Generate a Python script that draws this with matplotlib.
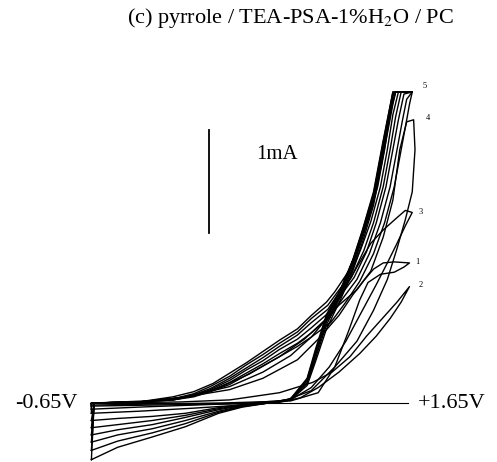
import matplotlib.pyplot as plt

plt.rcParams['font.family'] = ['Liberation Serif', 'DejaVu Serif']
plt.rcParams['mathtext.fontset'] = 'stix'

# potential window (V) and current scale bar (mA)
v_low, v_high = -0.65, 1.65
scale_bar_mA = 1.0

# early cycles: forward (anodic) and reverse sweeps
c1_fwd_v = [-0.64, -0.20, 0.30, 0.80, 1.00, 1.12, 1.22, 1.30, 1.36, 1.45, 1.55, 1.62, 1.66]
c1_fwd_i = [-0.02, -0.01, 0.00, 0.02, 0.10, 0.35, 0.70, 1.00, 1.17, 1.25, 1.27, 1.32, 1.36]
c1_rev_v = [1.66, 1.55, 1.47, 1.40, 1.33, 1.25, 1.15, 1.00, 0.85, 0.60, 0.36, 0.00, -0.30, -0.64]
c1_rev_i = [1.36, 1.37, 1.36, 1.30, 1.19, 1.05, 0.85, 0.62, 0.42, 0.24, 0.13, 0.05, 0.01, 0.00]

c2_fwd_v = [-0.64, -0.20, 0.30, 0.70, 0.87, 1.00, 1.15, 1.30, 1.42, 1.52, 1.60, 1.66]
c2_fwd_i = [-0.03, -0.02, -0.01, 0.00, 0.05, 0.15, 0.30, 0.48, 0.65, 0.82, 0.98, 1.13]
c2_rev_v = [1.66, 1.57, 1.45, 1.35, 1.23, 1.10, 0.96, 0.72, 0.36, 0.00, -0.64]
c2_rev_i = [1.13, 0.98, 0.80, 0.65, 0.45, 0.30, 0.20, 0.10, 0.03, 0.01, 0.00]

c3_fwd_v = [-0.64, -0.30, 0.10, 0.50, 0.80, 0.95, 1.08, 1.20, 1.32, 1.42, 1.50, 1.57, 1.63, 1.68]
c3_fwd_i = [-0.06, -0.04, -0.02, 0.00, 0.03, 0.15, 0.35, 0.60, 0.90, 1.15, 1.36, 1.55, 1.72, 1.85]
c3_rev_v = [1.68, 1.63, 1.57, 1.47, 1.38, 1.28, 1.18, 1.08, 0.95, 0.80, 0.60, 0.36, 0.05, -0.30, -0.64]
c3_rev_i = [1.85, 1.87, 1.80, 1.68, 1.55, 1.32, 1.08, 0.85, 0.64, 0.46, 0.30, 0.16, 0.06, 0.01, 0.00]

c4_fwd_v = [-0.64, -0.30, 0.10, 0.45, 0.75, 0.95, 1.12, 1.28, 1.40, 1.50, 1.57, 1.63, 1.68, 1.70, 1.69]
c4_fwd_i = [-0.10, -0.08, -0.05, -0.02, 0.02, 0.12, 0.35, 0.60, 0.90, 1.20, 1.50, 1.78, 2.05, 2.46, 2.75]
c4_rev_v = [1.69, 1.64, 1.59, 1.54, 1.47, 1.38, 1.28, 1.15, 1.06, 0.90, 0.72, 0.50, 0.25, 0.00, -0.30, -0.64]
c4_rev_i = [2.75, 2.73, 2.46, 1.97, 1.61, 1.28, 1.10, 0.95, 0.82, 0.62, 0.45, 0.28, 0.13, 0.05, 0.01, 0.00]

# later cycles: current off-scale (clipped at ~3 mA) at the anodic end
late_fwd_v = [-0.64, -0.45, -0.20, 0.04, 0.28, 0.45, 0.64, 0.80, 0.92, 0.98, 1.06,
              1.16, 1.25, 1.32, 1.40, 1.47, 1.54, 1.56, 1.68]
c5_fwd_i = [-0.17, -0.15, -0.13, -0.10, -0.045, -0.015, 0.00, 0.03, 0.17, 0.40, 0.72,
            1.00, 1.28, 1.56, 1.92, 2.40, 2.90, 3.02, 3.02]
c6_fwd_i = [-0.24, -0.21, -0.17, -0.12, -0.055, -0.02, 0.00, 0.03, 0.19, 0.43, 0.76,
            1.03, 1.31, 1.60, 1.95, 2.43, 2.94, 3.02, 3.02]
c7_fwd_i = [-0.31, -0.26, -0.21, -0.14, -0.065, -0.025, 0.00, 0.035, 0.20, 0.46, 0.79,
            1.05, 1.34, 1.63, 1.99, 2.47, 2.98, 3.02, 3.02]
c8_fwd_i = [-0.38, -0.31, -0.25, -0.17, -0.08, -0.03, 0.00, 0.035, 0.22, 0.48, 0.82,
            1.07, 1.36, 1.65, 2.01, 2.50, 3.00, 3.02, 3.02]
c9_fwd_i = [-0.46, -0.37, -0.29, -0.20, -0.09, -0.035, 0.00, 0.04, 0.23, 0.50, 0.84,
            1.09, 1.38, 1.67, 2.03, 2.53, 3.02, 3.02, 3.02]
c10_fwd_i = [-0.55, -0.43, -0.33, -0.23, -0.10, -0.04, 0.00, 0.04, 0.24, 0.52, 0.86,
             1.10, 1.39, 1.68, 2.05, 2.55, 3.02, 3.02, 3.02]

c5_rev_v = [1.68, 1.66, 1.64, 1.60, 1.55, 1.48, 1.40, 1.30, 1.20, 1.09, 0.95, 0.85, 0.72,
            0.60, 0.48, 0.36, 0.22, 0.10, -0.05, -0.30, -0.62]
c5_rev_i = [3.02, 2.90, 2.75, 2.46, 2.10, 1.75, 1.45, 1.18, 0.98, 0.78, 0.64, 0.55, 0.45,
            0.36, 0.27, 0.18, 0.11, 0.06, 0.03, 0.01, 0.00]
c6_rev_v = [1.68, 1.64, 1.61, 1.57, 1.52, 1.45, 1.37, 1.28, 1.18, 1.08, 0.95, 0.85, 0.72,
            0.60, 0.48, 0.36, 0.22, 0.10, -0.05, -0.30, -0.62]
c6_rev_i = [3.02, 2.95, 2.75, 2.46, 2.10, 1.75, 1.45, 1.20, 1.02, 0.83, 0.68, 0.58, 0.48,
            0.38, 0.29, 0.20, 0.12, 0.07, 0.03, 0.01, 0.00]
c7_rev_v = [1.68, 1.62, 1.58, 1.54, 1.49, 1.42, 1.35, 1.26, 1.16, 1.07, 0.95, 0.85, 0.72,
            0.60, 0.48, 0.36, 0.22, 0.10, -0.05, -0.30, -0.62]
c7_rev_i = [3.02, 3.00, 2.75, 2.46, 2.10, 1.75, 1.47, 1.22, 1.04, 0.87, 0.73, 0.62, 0.52,
            0.41, 0.32, 0.22, 0.13, 0.07, 0.03, 0.01, 0.00]
c8_rev_v = [1.68, 1.60, 1.56, 1.52, 1.47, 1.40, 1.33, 1.24, 1.14, 1.07, 0.95, 0.85, 0.72,
            0.60, 0.48, 0.36, 0.22, 0.10, -0.05, -0.30, -0.62]
c8_rev_i = [3.02, 3.02, 2.78, 2.46, 2.10, 1.75, 1.48, 1.22, 1.05, 0.91, 0.78, 0.66, 0.55,
            0.44, 0.34, 0.24, 0.14, 0.08, 0.04, 0.01, 0.00]
c9_rev_v = [1.68, 1.58, 1.54, 1.50, 1.45, 1.38, 1.31, 1.23, 1.13, 1.07, 0.95, 0.85, 0.72,
            0.60, 0.48, 0.36, 0.22, 0.10, -0.05, -0.30, -0.62]
c9_rev_i = [3.02, 3.02, 2.80, 2.46, 2.10, 1.76, 1.50, 1.24, 1.06, 0.95, 0.82, 0.69, 0.58,
            0.47, 0.37, 0.26, 0.16, 0.09, 0.04, 0.01, 0.00]
c10_rev_v = [1.68, 1.56, 1.52, 1.48, 1.43, 1.36, 1.29, 1.22, 1.12, 1.06, 0.95, 0.85, 0.72,
             0.60, 0.48, 0.36, 0.24, 0.10, -0.05, -0.25, -0.62]
c10_rev_i = [3.02, 3.02, 2.82, 2.46, 2.10, 1.78, 1.52, 1.28, 1.08, 0.98, 0.85, 0.72, 0.61,
             0.50, 0.39, 0.29, 0.19, 0.11, 0.06, 0.02, 0.00]

# hand-written cycle numbers next to the loop tips
cycle_labels = ["5", "4", "3", "1", "2"]
cycle_label_v = [1.77, 1.79, 1.74, 1.72, 1.74]
cycle_label_i = [3.08, 2.77, 1.85, 1.37, 1.15]

cycles = [
    (c1_fwd_v, c1_fwd_i, c1_rev_v, c1_rev_i),
    (c2_fwd_v, c2_fwd_i, c2_rev_v, c2_rev_i),
    (c3_fwd_v, c3_fwd_i, c3_rev_v, c3_rev_i),
    (c4_fwd_v, c4_fwd_i, c4_rev_v, c4_rev_i),
    (late_fwd_v, c5_fwd_i, c5_rev_v, c5_rev_i),
    (late_fwd_v, c6_fwd_i, c6_rev_v, c6_rev_i),
    (late_fwd_v, c7_fwd_i, c7_rev_v, c7_rev_i),
    (late_fwd_v, c8_fwd_i, c8_rev_v, c8_rev_i),
    (late_fwd_v, c9_fwd_i, c9_rev_v, c9_rev_i),
    (late_fwd_v, c10_fwd_i, c10_rev_v, c10_rev_i),
]

fig = plt.figure(figsize=(4.97, 4.62), dpi=100)
ax = fig.add_axes([0, 0, 1, 1])

# zero-current line across the sweep window
ax.plot([v_low, v_high], [0, 0], color='black', lw=0.8)

for fv, fi, rv, ri in cycles:
    # forward, reverse, then back down to the start at the cathodic vertex
    v = list(fv) + list(rv) + [fv[0]]
    i = list(fi) + list(ri) + [fi[0]]
    ax.plot(v, i, color='black', lw=1.0, solid_joinstyle='round')

# current scale bar
ax.plot([0.21, 0.21], [1.65, 1.65 + scale_bar_mA], color='black', lw=1.3)
ax.text(0.555, 2.41, '1mA', fontsize=15, va='center', ha='left')

ax.text(-0.74, 0.0, '-0.65V', fontsize=16, va='center', ha='right')
ax.text(1.72, 0.0, '+1.65V', fontsize=16, va='center', ha='left')

for lab, lv, li in zip(cycle_labels, cycle_label_v, cycle_label_i):
    ax.text(lv, li, lab, fontsize=6, va='center', ha='center')

ax.text(0.80, 3.74, '(c) pyrrole / TEA-PSA-1%H$_2$O / PC', fontsize=16,
        va='center', ha='center')

ax.set_xlim(-1.3008, 2.2929)
ax.set_ylim(-0.5728, 3.913)
ax.axis('off')

fig.savefig('out.png', dpi=100)
